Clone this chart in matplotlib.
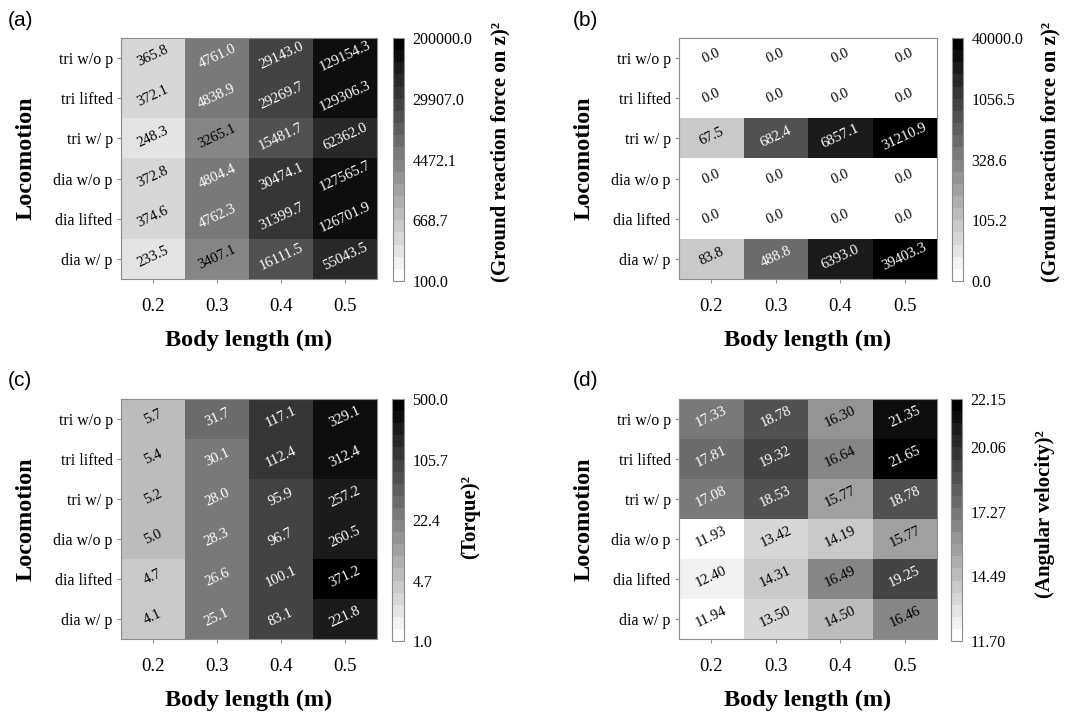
import numpy as np
import matplotlib.pyplot as plt
from matplotlib.colors import LogNorm, Normalize, FuncNorm

plt.rcParams['font.family'] = ['Liberation Serif', 'DejaVu Serif']

lengths = ['0.2', '0.3', '0.4', '0.5']
gaits = ['tri w/o p', 'tri lifted', 'tri w/ p', 'dia w/o p', 'dia lifted', 'dia w/ p']

# (a) squared ground reaction force on z
grf_z = [
    [365.8, 4761.0, 29143.0, 129154.3],
    [372.1, 4838.9, 29269.7, 129306.3],
    [248.3, 3265.1, 15481.7, 62362.0],
    [372.8, 4804.4, 30474.1, 127565.7],
    [374.6, 4762.3, 31399.7, 126701.9],
    [233.5, 3407.1, 16111.5, 55043.5],
]
grf_z_ticks = [100.0, 668.7, 4472.1, 29907.0, 200000.0]

# (b) same quantity, second case
grf_z2 = [
    [0.0, 0.0, 0.0, 0.0],
    [0.0, 0.0, 0.0, 0.0],
    [67.5, 682.4, 6857.1, 31210.9],
    [0.0, 0.0, 0.0, 0.0],
    [0.0, 0.0, 0.0, 0.0],
    [83.8, 488.8, 6393.0, 39403.3],
]
grf_z2_ticks = [0.0, 105.2, 328.6, 1056.5, 40000.0]

# (c) squared torque
torque = [
    [5.7, 31.7, 117.1, 329.1],
    [5.4, 30.1, 112.4, 312.4],
    [5.2, 28.0, 95.9, 257.2],
    [5.0, 28.3, 96.7, 260.5],
    [4.7, 26.6, 100.1, 371.2],
    [4.1, 25.1, 83.1, 221.8],
]
torque_ticks = [1.0, 4.7, 22.4, 105.7, 500.0]

# (d) squared angular velocity
ang_vel = [
    [17.33, 18.78, 16.30, 21.35],
    [17.81, 19.32, 16.64, 21.65],
    [17.08, 18.53, 15.77, 18.78],
    [11.93, 13.42, 14.19, 15.77],
    [12.40, 14.31, 16.49, 19.25],
    [11.94, 13.50, 14.50, 16.46],
]
ang_vel_ticks = [11.70, 14.49, 17.27, 20.06, 22.15]


def piecewise_norm(ticks):
    lt = np.log10(np.asarray(ticks) + 1.0)
    pos = np.linspace(0, 1, len(ticks))
    fwd = lambda x: np.interp(np.log10(np.asarray(x) + 1.0), lt, pos)
    inv = lambda y: 10 ** np.interp(y, pos, lt) - 1.0
    return FuncNorm((fwd, inv), vmin=ticks[0], vmax=ticks[-1])


W, H = 1075, 712


def box(l, t, r, b):
    return [l / W, 1 - b / H, (r - l) / W, (b - t) / H]


panels = [
    dict(tag='(a)', data=grf_z, ticks=grf_z_ticks, fmt='{:.1f}',
         norm=LogNorm(grf_z_ticks[0], grf_z_ticks[-1]),
         label='(Ground reaction force on z)²',
         ax=box(121, 38, 377, 279), cax=box(393, 38, 404, 281), lab=(500, 152), tagpos=(8, 20)),
    dict(tag='(b)', data=grf_z2, ticks=grf_z2_ticks, fmt='{:.1f}',
         norm=piecewise_norm(grf_z2_ticks),
         label='(Ground reaction force on z)²',
         ax=box(679, 38, 937, 279), cax=box(952, 38, 963, 281), lab=(1050, 152), tagpos=(573, 20)),
    dict(tag='(c)', data=torque, ticks=torque_ticks, fmt='{:.1f}',
         norm=LogNorm(torque_ticks[0], torque_ticks[-1]),
         label='(Torque)²',
         ax=box(121, 399, 377, 639), cax=box(392, 399, 404, 641), lab=(470, 517), tagpos=(8, 380)),
    dict(tag='(d)', data=ang_vel, ticks=ang_vel_ticks, fmt='{:.2f}',
         norm=Normalize(ang_vel_ticks[0], ang_vel_ticks[-1]),
         label='(Angular velocity)²',
         ax=box(679, 399, 937, 639), cax=box(951, 399, 962, 641), lab=(1045, 514), tagpos=(573, 380)),
]

cmap = plt.get_cmap('gray_r', 20)
edge = '#8c8c8c'

fig = plt.figure(figsize=(10.75, 7.12), dpi=100)

for p in panels:
    vals = np.array(p['data'])
    ax = fig.add_axes(p['ax'])
    mesh = ax.pcolormesh(np.arange(len(lengths) + 1), np.arange(len(gaits) + 1), vals,
                         cmap=cmap, norm=p['norm'])
    ax.set_xlim(0, len(lengths))
    ax.set_ylim(len(gaits), 0)
    for i in range(len(gaits)):
        for j in range(len(lengths)):
            v = vals[i, j]
            c = 'white' if p['norm'](v) > 0.5 else 'black'
            ax.text(j + 0.5, i + 0.45, p['fmt'].format(v), rotation=25,
                    ha='center', va='center', fontsize=10.5, color=c)
    ax.set_xticks(np.arange(len(lengths)) + 0.5)
    ax.set_xticklabels(lengths, fontsize=13.5)
    ax.set_yticks(np.arange(len(gaits)) + 0.5)
    ax.set_yticklabels(gaits, fontsize=11.5)
    ax.tick_params(axis='x', length=3, color=edge, pad=11)
    ax.tick_params(axis='y', length=3, color=edge, pad=3)
    for s in ax.spines.values():
        s.set_edgecolor(edge)
    ax.set_xlabel('Body length (m)', fontsize=17.5, fontweight='bold', labelpad=10)
    ax.set_ylabel('Locomotion', fontsize=17.5, fontweight='bold', labelpad=12)

    cax = fig.add_axes(p['cax'])
    cb = fig.colorbar(mesh, cax=cax)
    cb.set_ticks(p['ticks'])
    cb.set_ticklabels([p['fmt'].format(t) for t in p['ticks']])
    cb.ax.tick_params(length=0, labelsize=11.5, pad=6)
    cb.ax.minorticks_off()
    cb.outline.set_edgecolor(edge)

    fig.text(p['lab'][0] / W, 1 - p['lab'][1] / H, p['label'], rotation=90,
             ha='center', va='center', fontsize=15, fontweight='bold')
    fig.text(p['tagpos'][0] / W, 1 - p['tagpos'][1] / H, p['tag'],
             ha='left', va='center', fontsize=15, family='Liberation Sans')

fig.savefig('out.png', dpi=100)
